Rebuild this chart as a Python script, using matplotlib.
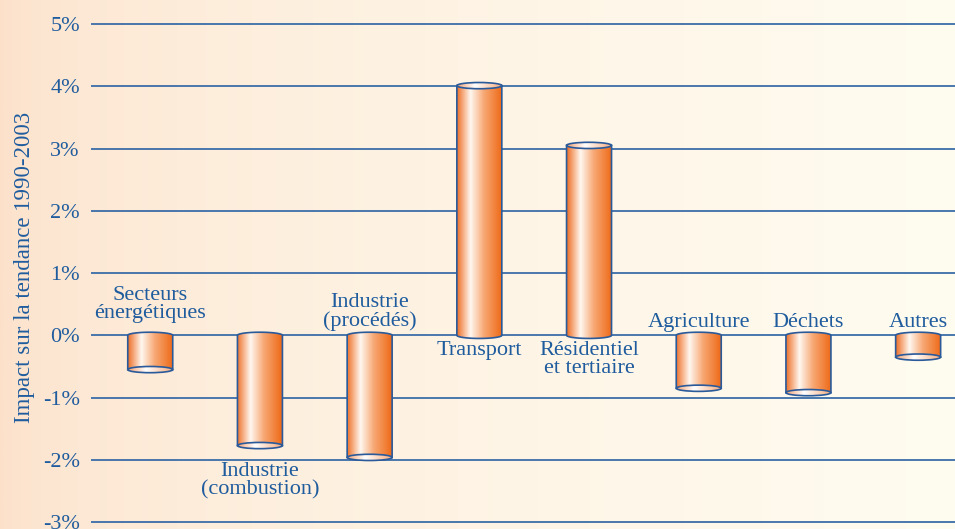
import numpy as np
import matplotlib
matplotlib.use("Agg")
import matplotlib.pyplot as plt
from matplotlib.colors import LinearSegmentedColormap, to_rgb
from matplotlib.patches import Ellipse, PathPatch
from matplotlib.path import Path

# données
secteurs = ["Secteurs\nénergétiques", "Industrie\n(combustion)", "Industrie\n(procédés)",
            "Transport", "Résidentiel\net tertiaire", "Agriculture", "Déchets", "Autres"]
impact = [-0.55, -1.77, -1.96, 4.01, 3.05, -0.85, -0.92, -0.35]
graduations = [-3, -2, -1, 0, 1, 2, 3, 4, 5]
etiquettes = [f"{g}%" for g in graduations]

bleu = "#1F5C9E"
plt.rcParams["font.family"] = ["Liberation Serif", "DejaVu Serif"]

fig = plt.figure(figsize=(9.55, 5.29), dpi=100)

# fond en dégradé (pêche à gauche, crème à droite)
bg = fig.add_axes([0, 0, 1, 1], zorder=0)
t = np.linspace(0, 1, 400) ** 0.5
c0, c1 = np.array(to_rgb("#FCE0C9")), np.array(to_rgb("#FFFCF0"))
grad = c0[None, :] * (1 - t[:, None]) + c1[None, :] * t[:, None]
bg.imshow(grad[None, :, :], aspect="auto", extent=[0, 1, 0, 1])
bg.set_xlim(0, 1)
bg.set_ylim(0, 1)
bg.axis("off")

ax = fig.add_axes([91 / 955, 0, 1 - 91 / 955, 1], zorder=1)
ax.patch.set_alpha(0)
for s in ax.spines.values():
    s.set_visible(False)
ax.set_xticks([])
ax.set_yticks(graduations)
ax.set_yticklabels(etiquettes, color=bleu, fontsize=16)
ax.tick_params(axis="y", length=0, pad=8)

for g in graduations:
    ax.axhline(g, color="#2B62A3", lw=1.2, zorder=1)

corps_cmap = LinearSegmentedColormap.from_list(
    "corps", [(0, "#EE7028"), (0.3, "#FFF7EF"), (0.6, "#F7A874"), (1, "#EE6A18")])
cap_cmap = LinearSegmentedColormap.from_list(
    "cap", [(0, "#F4A274"), (0.4, "#FFFFFF"), (1, "#F6AC7E")])
gx = np.linspace(0, 1, 256)[None, :]

w = 0.41
h = 0.1
for i, v in enumerate(impact):
    x0, x1 = i - w / 2, i + w / 2
    sens = 1 if v < 0 else -1
    th = np.linspace(np.pi, 0, 40)
    arc_x = i + (w / 2) * np.cos(th)
    arc_y = sens * (h / 2) * np.sin(th)
    verts = [(x0, v), (x0, 0)] + list(zip(arc_x, arc_y)) + [(x1, 0), (x1, v), (x0, v)]
    codes = [Path.MOVETO] + [Path.LINETO] * (len(verts) - 2) + [Path.CLOSEPOLY]
    chemin = Path(verts, codes)
    patch = PathPatch(chemin, facecolor="none", edgecolor="#2A5A9A", lw=1.2, zorder=4)
    ax.add_patch(patch)
    img = ax.imshow(gx, cmap=corps_cmap, aspect="auto", zorder=3,
                    extent=[x0, x1, min(v, 0) - h, max(v, 0) + h])
    img.set_clip_path(patch)
    # ellipse au bout
    ell = Ellipse((i, v), w, h, facecolor="none", edgecolor="#2A5A9A", lw=1.2, zorder=6)
    ax.add_patch(ell)
    img2 = ax.imshow(gx, cmap=cap_cmap, aspect="auto", zorder=5,
                     extent=[x0, x1, v - h, v + h])
    img2.set_clip_path(ell)

ax.set_xlim(-0.54, 7.336)
ax.set_ylim(-3.11, 5.385)

# étiquettes des catégories
pos = [(0.2, "bottom"), (-2.04, "top"), (0.07, "bottom"), (-0.09, "top"),
       (-0.09, "top"), (0.05, "bottom"), (0.05, "bottom"), (0.05, "bottom")]
for i, (nom, (y, va)) in enumerate(zip(secteurs, pos)):
    ax.text(i, y, nom, ha="center", va=va, color=bleu, fontsize=16,
            linespacing=0.95, zorder=7)

fig.text(0.026, 0.495, "Impact sur la tendance 1990-2003", rotation=90,
         ha="center", va="center", color=bleu, fontsize=16.5)

fig.savefig("out.png", dpi=100)
